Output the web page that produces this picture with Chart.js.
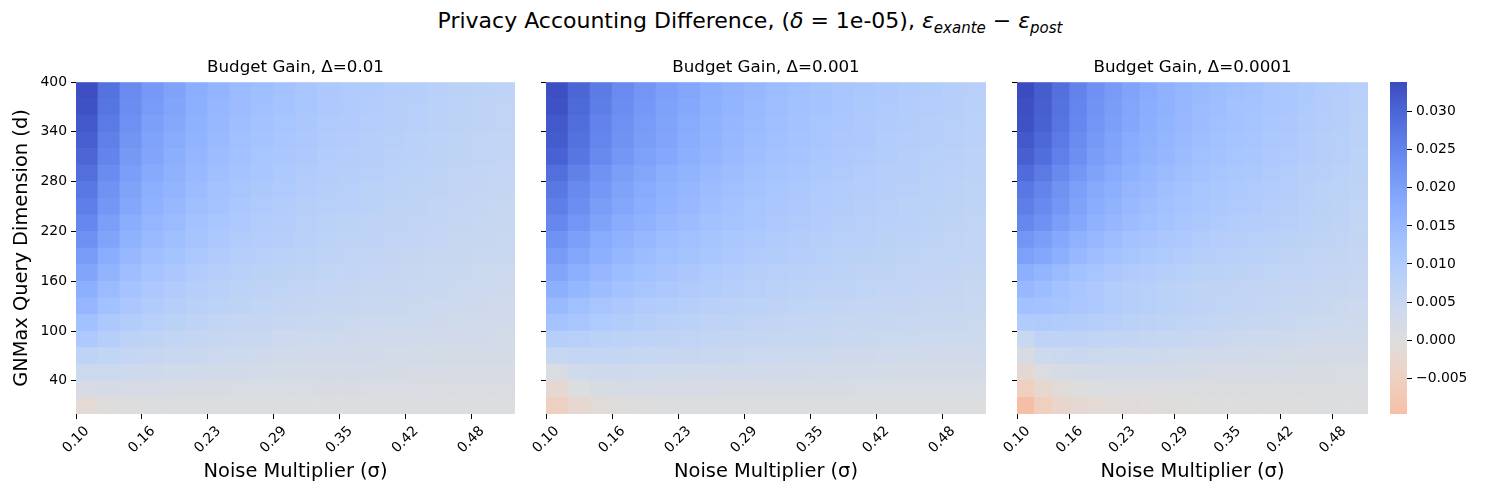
<!DOCTYPE html>
<html>
<head>
<meta charset="utf-8">
<script src="https://cdn.jsdelivr.net/npm/chart.js@4/dist/chart.umd.min.js"></script>
<style>
  body { margin: 0; background: #fff; width: 1500px; height: 500px; position: relative; overflow: hidden; font-family: 'DejaVu Sans'; }
  canvas { position: absolute; top: 0; }
  #sup { position: absolute; top: 8px; left: 0; width: 1500px; text-align: center; font-size: 22px; line-height: 26px; color: #000; }
  #sup .s { font-size: 15px; position: relative; top: 5px; font-style: italic; }
</style>
</head>
<body>
<div id="sup">Privacy Accounting Difference, (<i>δ</i> = 1e-05), <i>ε</i><span class="s">exante</span> − <i>ε</i><span class="s">post</span></div>
<canvas id="p1" width="525" height="500" style="left:0px"></canvas>
<canvas id="p2" width="466" height="500" style="left:530px"></canvas>
<canvas id="p3" width="378" height="500" style="left:1000px"></canvas>
<canvas id="cb" width="120" height="500" style="left:1380px"></canvas>
<script>
// noise multiplier (columns) and query dimension (rows, top to bottom)
const sigmas = [0.100, 0.121, 0.142, 0.163, 0.184, 0.205, 0.226, 0.247, 0.268, 0.289,
                0.311, 0.332, 0.353, 0.374, 0.395, 0.416, 0.437, 0.458, 0.479, 0.500];
const dims = [400, 380, 360, 340, 320, 300, 280, 260, 240, 220, 200, 180, 160, 140, 120, 100, 80, 60, 40, 20];
const xTickLabels = ['0.10', '0.16', '0.23', '0.29', '0.35', '0.42', '0.48'];
const yTickLabels = ['400', '340', '280', '220', '160', '100', '40'];
const cbTicks = [-0.005, 0, 0.005, 0.010, 0.015, 0.020, 0.025, 0.030];
const deltas = ['0.01', '0.001', '0.0001'];

// budget gain, in units of 1e-3, one row per dimension
const gainD01 = [
  [33.5, 27.9, 24.0, 21.3, 19.5, 17.3, 15.7, 14.4, 13.4, 12.6, 11.8, 11.0, 10.4, 9.9, 9.4, 8.9, 8.3, 7.8, 7.4, 7.0],
  [33.0, 27.5, 23.6, 20.9, 19.1, 17.0, 15.4, 14.1, 13.1, 12.3, 11.5, 10.7, 10.2, 9.7, 9.2, 8.6, 8.1, 7.6, 7.2, 6.8],
  [32.0, 26.7, 22.9, 20.3, 18.5, 16.5, 15.0, 13.7, 12.7, 11.9, 11.2, 10.4, 9.9, 9.4, 8.9, 8.4, 7.9, 7.4, 7.0, 6.6],
  [31.0, 25.8, 22.1, 19.7, 18.0, 16.0, 14.5, 13.3, 12.3, 11.6, 10.8, 10.1, 9.6, 9.1, 8.6, 8.1, 7.6, 7.1, 6.8, 6.4],
  [30.0, 25.0, 21.4, 19.1, 17.4, 15.5, 14.1, 12.9, 11.9, 11.2, 10.5, 9.8, 9.3, 8.8, 8.3, 7.9, 7.4, 6.9, 6.6, 6.2],
  [28.5, 23.8, 20.4, 18.2, 16.6, 14.8, 13.4, 12.3, 11.4, 10.7, 10.1, 9.4, 8.9, 8.5, 8.0, 7.6, 7.1, 6.7, 6.3, 6.0],
  [27.0, 22.5, 19.4, 17.2, 15.8, 14.1, 12.8, 11.7, 10.9, 10.3, 9.6, 9.0, 8.6, 8.1, 7.7, 7.3, 6.9, 6.4, 6.1, 5.8],
  [26.0, 21.7, 18.6, 16.6, 15.1, 13.5, 12.3, 11.2, 10.4, 9.8, 9.2, 8.6, 8.2, 7.8, 7.3, 6.9, 6.5, 6.1, 5.8, 5.5],
  [24.5, 20.4, 17.6, 15.6, 14.3, 12.7, 11.6, 10.6, 9.8, 9.3, 8.7, 8.1, 7.7, 7.3, 6.9, 6.6, 6.2, 5.8, 5.5, 5.2],
  [23.0, 19.2, 16.5, 14.7, 13.5, 12.0, 10.9, 10.0, 9.3, 8.8, 8.2, 7.7, 7.3, 7.0, 6.6, 6.3, 5.9, 5.5, 5.3, 5.0],
  [21.0, 17.6, 15.1, 13.5, 12.3, 11.0, 10.0, 9.2, 8.5, 8.0, 7.6, 7.1, 6.7, 6.4, 6.1, 5.7, 5.4, 5.1, 4.8, 4.6],
  [19.0, 15.9, 13.7, 12.2, 11.2, 10.0, 9.2, 8.4, 7.8, 7.4, 6.9, 6.5, 6.2, 5.9, 5.6, 5.3, 5.0, 4.7, 4.5, 4.3],
  [17.0, 14.3, 12.3, 11.0, 10.1, 9.1, 8.3, 7.6, 7.1, 6.7, 6.3, 6.0, 5.7, 5.4, 5.2, 4.9, 4.7, 4.4, 4.2, 4.0],
  [15.5, 13.0, 11.2, 10.0, 9.2, 8.2, 7.5, 6.9, 6.5, 6.1, 5.7, 5.4, 5.1, 4.9, 4.7, 4.4, 4.2, 4.0, 3.8, 3.6],
  [13.0, 10.9, 9.5, 8.5, 7.8, 7.0, 6.4, 5.9, 5.6, 5.3, 5.0, 4.7, 4.5, 4.3, 4.1, 3.9, 3.7, 3.5, 3.3, 3.2],
  [10.5, 8.9, 7.7, 6.9, 6.4, 5.7, 5.3, 4.9, 4.6, 4.3, 4.1, 3.9, 3.7, 3.6, 3.4, 3.2, 3.1, 2.9, 2.8, 2.7],
  [7.0, 6.5, 5.9, 5.4, 5.0, 4.6, 4.2, 3.9, 3.7, 3.5, 3.3, 3.1, 3.0, 2.8, 2.7, 2.6, 2.5, 2.4, 2.3, 2.2],
  [4.5, 4.4, 4.1, 3.8, 3.5, 3.2, 3.0, 2.8, 2.6, 2.5, 2.4, 2.3, 2.2, 2.1, 2.0, 1.9, 1.8, 1.7, 1.7, 1.6],
  [1.8, 2.0, 1.9, 1.8, 1.7, 1.6, 1.5, 1.4, 1.4, 1.3, 1.3, 1.2, 1.2, 1.1, 1.1, 1.1, 1.0, 1.0, 1.0, 1.0],
  [-1.5, -0.2, 0.1, 0.2, 0.3, 0.3, 0.3, 0.3, 0.4, 0.4, 0.4, 0.4, 0.4, 0.4, 0.4, 0.4, 0.4, 0.4, 0.4, 0.4]
];
const gainD001 = [
  [33.5, 30.0, 26.5, 24.0, 22.0, 20.3, 18.8, 17.3, 16.0, 15.0, 14.0, 13.3, 12.5, 11.8, 11.3, 10.5, 10.0, 9.5, 9.0, 8.5],
  [33.0, 29.5, 26.1, 23.6, 21.6, 19.9, 18.4, 16.9, 15.7, 14.7, 13.7, 13.0, 12.3, 11.5, 11.0, 10.3, 9.8, 9.3, 8.8, 8.3],
  [32.0, 28.7, 25.3, 22.9, 21.0, 19.3, 17.9, 16.5, 15.3, 14.3, 13.4, 12.6, 11.9, 11.2, 10.7, 10.0, 9.5, 9.1, 8.6, 8.1],
  [31.5, 28.2, 24.9, 22.5, 20.6, 19.0, 17.6, 16.2, 15.0, 14.0, 13.1, 12.4, 11.7, 11.0, 10.5, 9.8, 9.3, 8.8, 8.4, 7.9],
  [30.5, 27.3, 24.1, 21.8, 20.0, 18.4, 17.0, 15.7, 14.5, 13.6, 12.7, 12.0, 11.3, 10.7, 10.2, 9.5, 9.1, 8.6, 8.2, 7.7],
  [28.5, 25.6, 22.6, 20.5, 18.8, 17.4, 16.1, 14.9, 13.8, 13.0, 12.1, 11.5, 10.9, 10.2, 9.8, 9.2, 8.8, 8.3, 7.9, 7.5],
  [27.0, 24.2, 21.5, 19.5, 17.9, 16.5, 15.3, 14.1, 13.1, 12.3, 11.6, 11.0, 10.4, 9.8, 9.4, 8.8, 8.4, 8.0, 7.6, 7.2],
  [26.0, 23.3, 20.7, 18.8, 17.3, 15.9, 14.8, 13.7, 12.7, 11.9, 11.2, 10.6, 10.0, 9.5, 9.1, 8.5, 8.1, 7.8, 7.4, 7.0],
  [24.5, 22.0, 19.5, 17.8, 16.4, 15.1, 14.1, 13.0, 12.1, 11.4, 10.7, 10.2, 9.6, 9.1, 8.7, 8.2, 7.9, 7.5, 7.2, 6.8],
  [22.5, 20.3, 18.0, 16.4, 15.1, 14.0, 13.1, 12.1, 11.3, 10.7, 10.0, 9.5, 9.1, 8.6, 8.3, 7.8, 7.5, 7.1, 6.8, 6.5],
  [21.0, 18.9, 16.9, 15.4, 14.2, 13.2, 12.3, 11.4, 10.6, 10.0, 9.5, 9.0, 8.6, 8.1, 7.8, 7.4, 7.1, 6.8, 6.5, 6.2],
  [19.0, 17.2, 15.3, 14.0, 12.9, 12.0, 11.2, 10.4, 9.8, 9.2, 8.7, 8.3, 7.9, 7.5, 7.3, 6.9, 6.6, 6.3, 6.1, 5.8],
  [17.0, 15.4, 13.8, 12.6, 11.7, 10.9, 10.2, 9.5, 9.0, 8.5, 8.0, 7.7, 7.3, 7.0, 6.8, 6.4, 6.2, 6.0, 5.7, 5.5],
  [14.5, 13.2, 11.8, 10.9, 10.1, 9.5, 8.9, 8.3, 7.9, 7.5, 7.1, 6.8, 6.5, 6.2, 6.0, 5.8, 5.6, 5.4, 5.2, 5.0],
  [12.5, 11.4, 10.3, 9.5, 8.8, 8.3, 7.8, 7.3, 6.9, 6.6, 6.3, 6.0, 5.8, 5.5, 5.4, 5.1, 5.0, 4.8, 4.7, 4.5],
  [9.0, 8.5, 8.0, 7.6, 7.2, 6.9, 6.6, 6.3, 6.0, 5.8, 5.5, 5.3, 5.1, 4.9, 4.7, 4.5, 4.4, 4.2, 4.1, 4.0],
  [5.5, 6.0, 5.9, 5.7, 5.5, 5.3, 5.1, 4.9, 4.7, 4.5, 4.3, 4.1, 4.0, 3.8, 3.7, 3.6, 3.5, 3.4, 3.3, 3.2],
  [1.0, 3.5, 3.8, 3.7, 3.6, 3.5, 3.3, 3.2, 3.1, 3.0, 2.9, 2.8, 2.7, 2.6, 2.6, 2.5, 2.4, 2.4, 2.3, 2.3],
  [-2.0, 0.3, 1.5, 1.8, 1.9, 1.9, 1.8, 1.8, 1.7, 1.7, 1.6, 1.6, 1.5, 1.5, 1.4, 1.4, 1.4, 1.3, 1.3, 1.3],
  [-5.0, -2.3, -1.0, -0.3, 0.0, 0.2, 0.3, 0.4, 0.4, 0.5, 0.5, 0.5, 0.5, 0.5, 0.5, 0.5, 0.5, 0.5, 0.5, 0.5]
];
const gainD0001 = [
  [33.9, 31.4, 28.3, 25.3, 22.7, 20.9, 19.2, 17.9, 16.6, 15.6, 14.6, 13.8, 13.1, 12.6, 11.8, 11.3, 10.5, 9.8, 9.3, 8.5],
  [33.5, 31.0, 28.0, 24.9, 22.4, 20.6, 18.9, 17.6, 16.4, 15.4, 14.3, 13.6, 12.8, 12.3, 11.6, 11.1, 10.3, 9.6, 9.1, 8.3],
  [33.0, 30.5, 27.5, 24.5, 22.0, 20.3, 18.6, 17.3, 16.1, 15.1, 14.1, 13.3, 12.6, 12.1, 11.3, 10.8, 10.1, 9.3, 8.8, 8.1],
  [32.0, 29.6, 26.7, 23.8, 21.4, 19.7, 18.0, 16.8, 15.6, 14.6, 13.7, 13.0, 12.2, 11.8, 11.0, 10.6, 9.8, 9.1, 8.6, 7.9],
  [31.0, 28.7, 25.9, 23.1, 20.7, 19.1, 17.5, 16.3, 15.2, 14.2, 13.3, 12.6, 11.9, 11.4, 10.7, 10.3, 9.6, 8.9, 8.4, 7.7],
  [29.0, 26.8, 24.2, 21.7, 19.5, 18.0, 16.5, 15.4, 14.3, 13.4, 12.6, 11.9, 11.3, 10.9, 10.2, 9.8, 9.1, 8.5, 8.0, 7.4],
  [27.0, 25.0, 22.6, 20.2, 18.2, 16.9, 15.5, 14.5, 13.5, 12.7, 11.9, 11.3, 10.7, 10.3, 9.7, 9.3, 8.7, 8.1, 7.7, 7.1],
  [26.0, 24.1, 21.8, 19.5, 17.6, 16.2, 14.9, 13.9, 12.9, 12.2, 11.4, 10.8, 10.3, 9.9, 9.3, 8.9, 8.3, 7.8, 7.4, 6.8],
  [24.5, 22.7, 20.5, 18.4, 16.6, 15.3, 14.1, 13.2, 12.3, 11.5, 10.8, 10.3, 9.7, 9.4, 8.8, 8.5, 7.9, 7.4, 7.0, 6.5],
  [22.0, 20.4, 18.5, 16.6, 15.0, 13.9, 12.8, 12.0, 11.2, 10.6, 9.9, 9.4, 9.0, 8.6, 8.2, 7.8, 7.4, 6.9, 6.6, 6.1],
  [20.0, 18.6, 16.9, 15.1, 13.7, 12.7, 11.7, 11.0, 10.3, 9.7, 9.1, 8.7, 8.3, 8.0, 7.6, 7.3, 6.8, 6.4, 6.1, 5.7],
  [17.0, 15.8, 14.4, 13.0, 11.9, 11.0, 10.2, 9.6, 9.0, 8.6, 8.1, 7.8, 7.4, 7.2, 6.8, 6.6, 6.2, 5.9, 5.7, 5.3],
  [15.0, 14.0, 12.8, 11.5, 10.5, 9.8, 9.1, 8.6, 8.1, 7.7, 7.2, 6.9, 6.6, 6.4, 6.1, 5.9, 5.6, 5.3, 5.1, 4.8],
  [13.0, 12.6, 12.0, 11.2, 10.5, 9.8, 9.2, 8.6, 8.1, 7.7, 7.2, 6.8, 6.4, 6.1, 5.8, 5.5, 5.1, 4.8, 4.5, 4.3],
  [10.0, 10.3, 10.0, 9.5, 9.0, 8.5, 8.0, 7.6, 7.2, 6.8, 6.4, 6.0, 5.7, 5.4, 5.1, 4.8, 4.5, 4.2, 3.9, 3.7],
  [5.0, 7.0, 7.2, 7.0, 6.7, 6.4, 6.1, 5.8, 5.5, 5.2, 4.9, 4.7, 4.4, 4.2, 4.0, 3.8, 3.6, 3.4, 3.2, 3.0],
  [1.5, 4.0, 4.5, 4.6, 4.5, 4.3, 4.1, 3.9, 3.7, 3.5, 3.3, 3.1, 3.0, 2.8, 2.7, 2.5, 2.4, 2.3, 2.2, 2.1],
  [-2.0, 0.8, 1.6, 2.2, 2.4, 2.5, 2.4, 2.3, 2.2, 2.1, 2.0, 1.9, 1.8, 1.7, 1.7, 1.6, 1.5, 1.5, 1.4, 1.4],
  [-5.5, -2.5, -1.0, 0.0, 0.5, 0.7, 0.8, 0.8, 0.8, 0.8, 0.8, 0.8, 0.8, 0.8, 0.7, 0.7, 0.7, 0.7, 0.7, 0.7],
  [-9.7, -5.5, -3.2, -2.0, -1.5, -1.0, -0.7, -0.5, -0.3, -0.2, -0.1, 0.0, 0.0, 0.1, 0.1, 0.1, 0.1, 0.2, 0.2, 0.2]
];

Chart.defaults.font.family = "'DejaVu Sans'";
Chart.defaults.color = '#000';

// coolwarm, 33 stops
const CW = [[59,76,192],[68,90,204],[77,104,215],[87,117,225],[98,130,234],[108,142,241],[119,154,247],[130,165,251],
  [141,176,254],[152,185,255],[163,194,255],[174,201,253],[184,208,249],[194,213,244],[204,217,238],[213,219,230],
  [221,221,221],[229,216,209],[236,211,198],[241,204,185],[245,196,173],[247,187,160],[247,177,148],[247,166,135],
  [244,154,123],[241,141,111],[236,127,99],[229,112,88],[222,96,77],[213,80,66],[203,62,56],[192,40,47],[180,4,38]];

const allVals = [gainD01, gainD001, gainD0001].flat(2).map(v => v / 1000);
const vmin = Math.min(...allVals);
const vmax = Math.max(...allVals);
const vRange = Math.max(vmax, -vmin); // centred on 0

function coolwarm(t) {
  t = Math.max(0, Math.min(1, t));
  const p = t * 32, i = Math.min(31, Math.floor(p)), f = p - i;
  const a = CW[i], b = CW[i + 1];
  return 'rgb(' + a.map((x, k) => Math.round(x + (b[k] - x) * f)).join(',') + ')';
}
// reversed map: positive gains are blue
function valueColor(v) { return coolwarm(0.5 - v / (2 * vRange)); }

const xTickPos = xTickLabels.map(l => sigmas.findIndex(s => s.toFixed(2) === l));
const yTickPos = yTickLabels.map(l => dims.indexOf(+l));

const tickGrid = { drawOnChartArea: false, drawTicks: true, tickLength: 5, tickColor: '#000', tickWidth: 1 };

function heatmap(id, values, delta, yWidth, first) {
  const cells = [];
  const colors = [];
  values.forEach((row, r) => row.forEach((v, c) => {
    cells.push({ x: c + 0.5, y: [r, r + 1] });
    colors.push(valueColor(v / 1000));
  }));
  new Chart(document.getElementById(id), {
    type: 'bar',
    data: { datasets: [{ data: cells, backgroundColor: colors, borderWidth: 0, barPercentage: 1, categoryPercentage: 1 }] },
    options: {
      responsive: false,
      animation: false,
      events: [],
      layout: { padding: { top: 58, right: 10, left: 0, bottom: 0 } },
      plugins: {
        legend: { display: false },
        tooltip: { enabled: false },
        title: {
          display: true, text: 'Budget Gain, Δ=' + delta, fullSize: false,
          font: { size: 16.7, weight: 'normal' }, padding: { top: 0, bottom: 4 }
        }
      },
      scales: {
        x: {
          type: 'linear', min: 0, max: sigmas.length, offset: false,
          grid: Object.assign({ offset: false }, tickGrid),
          border: { display: false },
          afterBuildTicks: a => { a.ticks = xTickPos.map(v => ({ value: v })); },
          afterFit: a => { a.height = 86; a.paddingLeft = 0; a.paddingRight = 0; },
          ticks: {
            autoSkip: false, minRotation: 45, maxRotation: 45, labelOffset: 11, padding: 4,
            font: { size: 13.9 }, callback: (v, i) => xTickLabels[i]
          },
          title: { display: true, text: 'Noise Multiplier (σ)', font: { size: 19.4 }, padding: { top: 0, bottom: 16 } }
        },
        y: {
          type: 'linear', reverse: true, min: 0, max: dims.length,
          grid: tickGrid,
          border: { display: false },
          afterBuildTicks: a => { a.ticks = yTickPos.map(v => ({ value: v })); },
          afterFit: a => { a.width = yWidth; a.paddingTop = 0; a.paddingBottom = 0; },
          ticks: { display: first, padding: 4, font: { size: 13.9 }, callback: (v, i) => yTickLabels[i] },
          title: { display: first, text: 'GNMax Query Dimension (d)', font: { size: 19.4 }, padding: { top: 10, bottom: 0 } }
        }
      }
    }
  });
}

heatmap('p1', gainD01, deltas[0], 76, true);
heatmap('p2', gainD001, deltas[1], 16, false);
heatmap('p3', gainD0001, deltas[2], 17, false);

// colour bar
new Chart(document.getElementById('cb'), {
  type: 'bar',
  data: {
    labels: [''],
    datasets: [{
      data: [[vmin, vmax]],
      borderWidth: 0, barPercentage: 1, categoryPercentage: 1,
      backgroundColor: c => {
        const ch = c.chart, ys = ch.scales.y;
        if (!ys || !ch.chartArea) return '#ccc';
        const g = ch.ctx.createLinearGradient(0, ys.getPixelForValue(vmin), 0, ys.getPixelForValue(vmax));
        for (let k = 0; k <= 32; k++) g.addColorStop(k / 32, valueColor(vmin + (vmax - vmin) * k / 32));
        return g;
      }
    }]
  },
  options: {
    responsive: false,
    animation: false,
    events: [],
    layout: { padding: { top: 82, left: 10, right: 0, bottom: 86 } },
    plugins: { legend: { display: false }, tooltip: { enabled: false } },
    scales: {
      x: { display: false },
      y: {
        position: 'right', min: vmin, max: vmax,
        grid: tickGrid,
        border: { display: false },
        afterBuildTicks: a => { a.ticks = cbTicks.map(v => ({ value: v })); },
        afterFit: a => { a.width = 93; a.paddingTop = 0; a.paddingBottom = 0; },
        ticks: {
          padding: 4, font: { size: 13.9 },
          callback: v => (v < 0 ? '\u2212' : '') + Math.abs(v).toFixed(3)
        }
      }
    }
  }
});
</script>
</body>
</html>
